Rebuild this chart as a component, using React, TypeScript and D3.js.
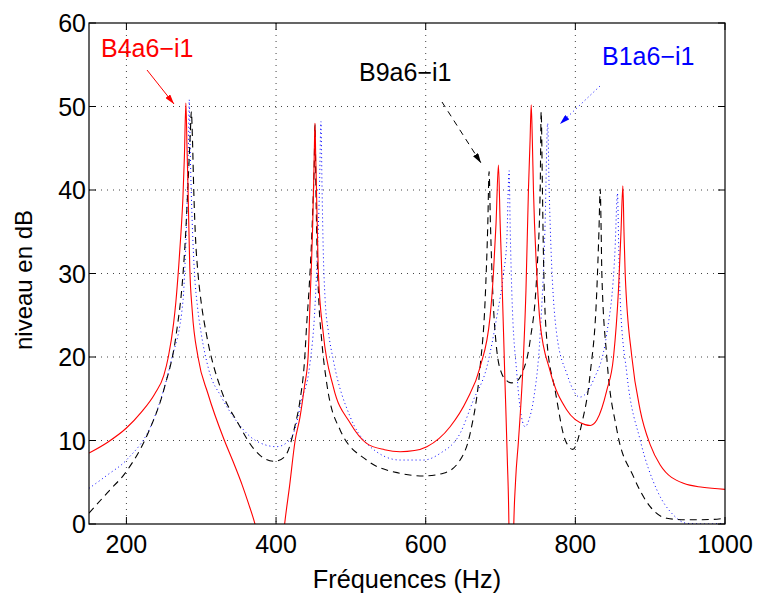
import React from "react";
import * as d3 from "d3";

const W = 757;
const H = 595;

const xTicks = [200, 400, 600, 800, 1000];
const yTicks = [0, 10, 20, 30, 40, 50, 60];

// B4a6-i1 (red, solid)
const redFreq = [150, 175, 200, 220, 238, 250, 256, 263, 266, 270, 273, 275.5, 277.5, 279.5, 281, 282.4, 284.6, 288, 295.7, 309, 331, 342, 355, 363, 371.5, 376, 382, 392, 402, 407, 411.6, 418, 425.5, 432, 438, 442.8, 445.5, 449, 451, 452, 453, 455, 456.6, 463, 476.6, 499, 521, 545, 565.8, 585, 601.5, 632.6, 655, 672.7, 686, 690.5, 694, 697.2, 699.5, 701.7, 706, 709, 711.5, 713, 715.5, 717.5, 720, 724, 730.6, 734, 737.3, 739.5, 741, 742.5, 744, 748.5, 753, 766, 788.6, 813, 820, 828.7, 842, 851, 857.6, 861, 863.5, 865, 866.6, 875.5, 886.6, 900, 913.4, 944.5, 970, 1000];
const redDb = [8.5, 9.8, 11.5, 13.4, 15.6, 17.8, 20.0, 24, 26.5, 31, 35, 39, 44, 50.4, 45, 40, 31, 25.5, 20, 15.6, 10, 7.6, 4.6, 2.5, 0.1, -1.5, -6, -20, -9, -4, 0.1, 4.5, 10, 12.8, 16.5, 20, 26.8, 36, 44, 48, 44, 36, 30, 22.9, 16.4, 12.1, 9.66, 8.9, 8.66, 8.8, 9.26, 11.65, 14.85, 18.8, 24.8, 30, 36, 43, 36, 30, 16.8, 8, -2, -20, -20, -1, 5, 10, 20, 28, 40, 46, 50.2, 46, 40, 30, 24, 18.4, 13.65, 11.9, 11.8, 12.45, 16, 20, 28, 35, 40.5, 35, 30, 20, 13.65, 9.5, 7.07, 4.87, 4.4, 4.15];

// B9a6-i1 (black, dashed)
const blackFreq = [150, 175, 200, 229, 251, 266.7, 275.7, 279, 282, 284, 285.5, 286.8, 288.3, 290, 292.5, 295.7, 300, 306.8, 326.9, 349, 371.5, 385, 398, 411.6, 425, 432, 438, 441, 444, 447, 449.5, 451, 452, 453.3, 455, 457, 461, 467.8, 485.6, 521, 565.8, 597, 623.7, 646, 659.4, 672.7, 679.4, 683, 684.7, 686.5, 688.3, 695, 701.7, 708, 715, 724, 728.4, 739.6, 748.5, 753, 754.3, 756, 757.4, 761.9, 773, 786.4, 796.6, 808.7, 819.8, 828.7, 831.5, 833.2, 834.5, 835.4, 842, 855.5, 877.7, 900, 922.3, 949, 984.6, 1000];
const blackDb = [1.3, 3.8, 6.3, 10.9, 16.4, 22.8, 30, 34.5, 40, 44, 47, 49.4, 46, 40, 34, 30, 26.5, 22.8, 16, 12.1, 8.86, 7.8, 7.5, 8.06, 11.65, 14.8, 19.5, 24, 28, 33, 38.8, 43, 47.8, 40, 32, 27, 22, 16.8, 11.26, 7.66, 6.07, 5.75, 6.07, 7.66, 10.86, 18.8, 26.8, 36, 42.2, 36, 30.8, 20.8, 18, 17.2, 16.9, 17.3, 18, 22, 30, 40, 49.4, 40, 32, 22, 16, 10.06, 8.94, 12.06, 18, 28, 35, 40.1, 35, 30, 20, 11.26, 5.67, 2.07, 0.68, 0.5, 0.55, 0.7];

// B1a6-i1 (blue, dotted)
const blueFreq = [150, 175, 200, 237.8, 260, 275.7, 278, 280, 282, 283, 284, 285, 286, 288, 291, 295, 300, 310, 327, 349, 371.5, 400.5, 416, 425, 434, 445, 452, 455, 458, 460, 461.5, 463, 465.5, 470, 476.6, 499, 521, 565.8, 597, 619.3, 646, 663.8, 681.7, 695, 704, 708.4, 711.5, 713, 715, 721.8, 726, 732.9, 738, 744, 753, 759.6, 763, 765, 766.3, 775, 788.6, 806, 824, 842, 853, 856.3, 858, 860, 868.8, 886.6, 909, 931, 949, 975, 1000];
const blueDb = [4.27, 5.9, 7.66, 12.85, 19.6, 26.8, 30.5, 35, 42, 46, 50.8, 46, 42, 36, 30, 26, 22.8, 18.5, 15.2, 12.1, 10.06, 9.26, 9.86, 11.3, 14.8, 19, 26, 32, 40, 48.2, 40, 33, 27, 23, 19.6, 12.85, 9.66, 7.66, 7.66, 8.46, 10.86, 14.85, 18.8, 24.8, 30, 34, 42.3, 35, 28, 18, 14, 11.65, 12.5, 14.85, 22.8, 36, 48, 40, 36, 22.8, 18, 15.2, 17.2, 22.8, 32.8, 39.6, 33, 26.8, 18, 10.06, 4.07, 1.08, 0.08, 0, 0.1];

const seriesNames = ["B4a6\u2212i1", "B9a6\u2212i1", "B1a6\u2212i1"];

const FONT = "'Liberation Sans', Arial, Helvetica, sans-serif";

export default function App() {
  const left = 89, right = 725, top = 23, bottom = 524;
  const x = d3.scaleLinear().domain([150, 1000]).range([left, right]);
  const y = d3.scaleLinear().domain([0, 60]).range([bottom, top]);

  const line = d3
    .line<[number, number]>()
    .x((d) => x(d[0]))
    .y((d) => y(d[1]))
    .curve(d3.curveMonotoneX);

  const zip = (a: number[], b: number[]) => a.map((v, i) => [v, b[i]] as [number, number]);

  const tick = 7;

  return (
    <svg
      width={W}
      height={H}
      style={{ position: "absolute", left: 0, top: 0, background: "#fff" }}
      fontFamily={FONT}
    >
      <defs>
        <clipPath id="plotclip">
          <rect x={left} y={top} width={right - left} height={bottom - top} />
        </clipPath>
        <marker id="arrRed" viewBox="0 0 10 6" refX="10" refY="3" markerWidth="10" markerHeight="6" markerUnits="userSpaceOnUse" orient="auto">
          <path d="M0,0 L10,3 L0,6 z" fill="#ff0000" />
        </marker>
        <marker id="arrBlack" viewBox="0 0 10 6" refX="10" refY="3" markerWidth="10" markerHeight="6" markerUnits="userSpaceOnUse" orient="auto">
          <path d="M0,0 L10,3 L0,6 z" fill="#000" />
        </marker>
        <marker id="arrBlue" viewBox="0 0 10 6" refX="10" refY="3" markerWidth="10" markerHeight="6" markerUnits="userSpaceOnUse" orient="auto">
          <path d="M0,0 L10,3 L0,6 z" fill="#0000ff" />
        </marker>
      </defs>
      <rect x={0} y={0} width={W} height={H} fill="#fff" />

      {/* grid */}
      <g stroke="#444" strokeWidth={1} strokeDasharray="1,5">
        {xTicks.filter((t) => t < 1000).map((t) => (
          <line key={"gx" + t} x1={x(t)} x2={x(t)} y1={top} y2={bottom} />
        ))}
        {yTicks.filter((t) => t > 0 && t < 60).map((t) => (
          <line key={"gy" + t} x1={left} x2={right} y1={y(t)} y2={y(t)} />
        ))}
      </g>

      {/* curves */}
      <g clipPath="url(#plotclip)" fill="none">
        <path d={line(zip(blueFreq, blueDb)) || ""} stroke="#0000ff" strokeWidth={1} strokeDasharray="1,3" />
        <path d={line(zip(blackFreq, blackDb)) || ""} stroke="#000" strokeWidth={1.1} strokeDasharray="7,5" />
        <path d={line(zip(redFreq, redDb)) || ""} stroke="#ff0000" strokeWidth={1.1} />
      </g>

      {/* axes box */}
      <rect x={left} y={top} width={right - left} height={bottom - top} fill="none" stroke="#000" strokeWidth={1.2} />
      <g stroke="#000" strokeWidth={1}>
        {xTicks.map((t) => (
          <g key={"tx" + t}>
            <line x1={x(t)} x2={x(t)} y1={bottom} y2={bottom - tick} />
            <line x1={x(t)} x2={x(t)} y1={top} y2={top + tick} />
          </g>
        ))}
        {yTicks.map((t) => (
          <g key={"ty" + t}>
            <line x1={left} x2={left + tick} y1={y(t)} y2={y(t)} />
            <line x1={right} x2={right - tick} y1={y(t)} y2={y(t)} />
          </g>
        ))}
      </g>

      {/* tick labels */}
      <g fontSize={25} fill="#000">
        {xTicks.map((t) => (
          <text key={"lx" + t} x={x(t)} y={553} textAnchor="middle">{t}</text>
        ))}
        {yTicks.map((t) => (
          <text key={"ly" + t} x={86} y={y(t) + 9} textAnchor="end">{t}</text>
        ))}
      </g>

      {/* axis labels */}
      <text x={(left + right) / 2} y={588} textAnchor="middle" fontSize={25.3} fill="#000">Fréquences (Hz)</text>
      <text transform={`translate(32,280) rotate(-90)`} textAnchor="middle" fontSize={24} fill="#000">niveau en dB</text>

      {/* annotations */}
      <text x={101} y={57} fontSize={25} fill="#ff0000">{seriesNames[0]}</text>
      <line x1={147} y1={70} x2={174} y2={104} stroke="#ff0000" strokeWidth={1} markerEnd="url(#arrRed)" />

      <text x={359} y={81} fontSize={25} fill="#000">{seriesNames[1]}</text>
      <line x1={442} y1={102} x2={481} y2={163} stroke="#000" strokeWidth={1} strokeDasharray="6,5" markerEnd="url(#arrBlack)" />

      <text x={602} y={65} fontSize={25} fill="#0000ff">{seriesNames[2]}</text>
      <line x1={600} y1={86} x2={560} y2={124} stroke="#0000ff" strokeWidth={1} strokeDasharray="1,3" markerEnd="url(#arrBlue)" />
    </svg>
  );
}
